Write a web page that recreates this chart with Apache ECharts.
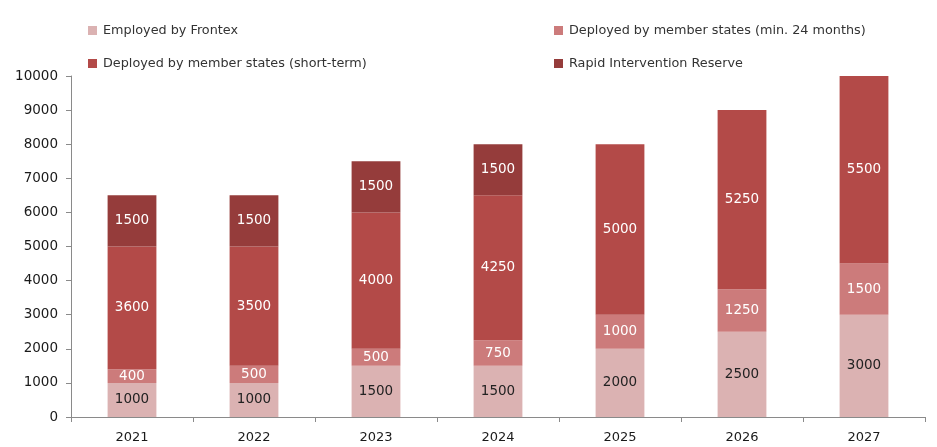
<!DOCTYPE html>
<html><head><meta charset="utf-8">
<script src="https://cdn.jsdelivr.net/npm/echarts@6/dist/echarts.min.js"></script>
<style>html,body{margin:0;padding:0;background:#fff}#c{width:937px;height:447px}</style>
</head><body><div id="c"></div>
<script>
const years = ['2021','2022','2023','2024','2025','2026','2027'];
const seriesNames = ['Employed by Frontex','Deployed by member states (min. 24 months)','Deployed by member states (short-term)','Rapid Intervention Reserve'];
const employedFrontex = [1000,1000,1500,1500,2000,2500,3000];
const deployedLong = [400,500,500,750,1000,1250,1500];
const deployedShort = [3600,3500,4000,4250,5000,5250,5500];
const rapidReserve = [1500,1500,1500,1500,null,null,null];
const yTicks = [0,1000,2000,3000,4000,5000,6000,7000,8000,9000,10000];

const colors = ['#dbb2b2','#cc7b7b','#b34a48','#953c3b'];
const labelColors = ['#222','#fff','#fff','#fff'];
const font = '"DejaVu Sans", sans-serif';
const values = [employedFrontex, deployedLong, deployedShort, rapidReserve];

const chart = echarts.init(document.getElementById('c'));
const legendPos = [[83,19],[549,19],[83,52],[549,52]];
chart.setOption({
  animation:false,
  color: colors,
  legend: seriesNames.map((n,i)=>({
    data:[n], left:legendPos[i][0], top:legendPos[i][1], itemWidth:9, itemHeight:9, itemGap:4,
    icon:'rect', selectedMode:false,
    textStyle:{fontFamily:font, fontSize:12.8, color:'#333', padding:[0,0,0,1]}
  })),
  grid:{left:71, right:12, top:76, bottom:30},
  xAxis:{type:'category', data:years,
    axisLine:{lineStyle:{color:'#8a8a8a'}},
    axisTick:{show:true, length:5, lineStyle:{color:'#8a8a8a'}},
    axisLabel:{fontFamily:font, fontSize:13, color:'#1a1a1a', margin:14}},
  yAxis:{type:'value', min:0, max:10000, interval:1000,
    axisLine:{show:true, lineStyle:{color:'#8a8a8a'}},
    axisTick:{show:true, length:5, lineStyle:{color:'#8a8a8a'}},
    splitLine:{show:false},
    axisLabel:{fontFamily:font, fontSize:13.5, color:'#1a1a1a', margin:13,
      formatter:v=>yTicks.includes(v)?String(v):''}},
  series: seriesNames.map((n,i)=>({
    name:n, type:'bar', stack:'total', barWidth:'40%',
    data: values[i],
    itemStyle:{color:colors[i]},
    label:{show:true, position:'inside', fontFamily:font, fontSize:13.5, color:labelColors[i],
      formatter:p=>p.value==null?'':String(p.value)}
  }))
});
</script></body></html>
